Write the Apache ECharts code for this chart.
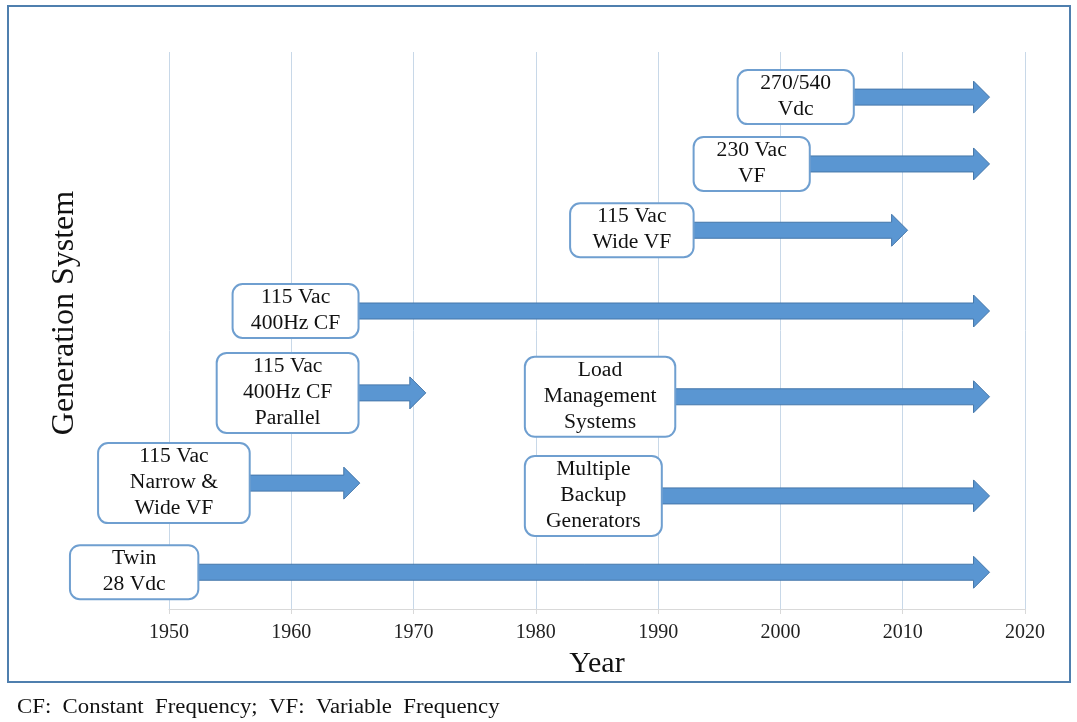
<!DOCTYPE html>
<html>
<head>
<meta charset="utf-8">
<title>Generation System timeline</title>
<script src="https://cdn.jsdelivr.net/npm/echarts@6/dist/echarts.min.js"></script>
<style>
    html, body { margin: 0; padding: 0; background: #fff; }
    #chart { width: 1077px; height: 722px; }
</style>
</head>
<body>
<div id="chart"></div>
<script>
// 数据：每个系统的文字框起止年份、箭头终点年份、行位置
const yearTicks = [1950, 1960, 1970, 1980, 1990, 2000, 2010, 2020];
const systemLabels = [
    "Twin\n28 Vdc",
    "115 Vac\nNarrow &\nWide VF",
    "Multiple\nBackup\nGenerators",
    "115 Vac\n400Hz CF\nParallel",
    "Load\nManagement\nSystems",
    "115 Vac\n400Hz CF",
    "115 Vac\nWide VF",
    "230 Vac\nVF",
    "270/540\nVdc"
];
const boxStartYear = [1941.9, 1944.2, 1979.1, 1953.9, 1979.1, 1955.2, 1982.8, 1992.9, 1996.5];
const boxEndYear = [1952.4, 1956.6, 1990.3, 1965.5, 1991.4, 1965.5, 1992.9, 2002.4, 2006.0];
const arrowEndYear = [2017.1, 1965.6, 2017.1, 1971.0, 2017.1, 2017.1, 2010.4, 2017.1, 2017.1];
const rowLevel = [0.66, 2.26, 2.03, 3.88, 3.81, 5.35, 6.8, 7.99, 9.19];

(function () {
    const my_echart = echarts.init(document.getElementById("chart"));
    const serif = "Liberation Serif, Times New Roman, serif";
    const seriesData = systemLabels.map(function (name, i) {
        return [boxStartYear[i], boxEndYear[i], arrowEndYear[i], rowLevel[i]];
    });

    function renderItem(params, api) {
        const i = params.dataIndex;
        const left = api.coord([api.value(0), api.value(3)]);
        const right = api.coord([api.value(1), api.value(3)]);
        const tip = api.coord([api.value(2), api.value(3)]);
        const lines = systemLabels[i].split("\n").length;
        const h = lines * 26 + 2; //框高度
        const cy = left[1];
        const shaft = 8, head = 16, headLen = 16;
        return {
            type: "group",
            children: [
                { //箭头
                    type: "polygon",
                    shape: {
                        points: [
                            [right[0] - 2, cy - shaft],
                            [tip[0] - headLen, cy - shaft],
                            [tip[0] - headLen, cy - head],
                            [tip[0], cy],
                            [tip[0] - headLen, cy + head],
                            [tip[0] - headLen, cy + shaft],
                            [right[0] - 2, cy + shaft]
                        ]
                    },
                    style: { fill: "#5a96d2", stroke: "#4577aa", lineWidth: 1 }
                },
                { //圆角文字框
                    type: "rect",
                    shape: { x: left[0], y: cy - h / 2, width: right[0] - left[0], height: h, r: 10 },
                    style: { fill: "#fff", stroke: "#6f9fd0", lineWidth: 2 }
                },
                {
                    type: "text",
                    x: (left[0] + right[0]) / 2,
                    y: cy,
                    scaleX: 1.08, //原图文字略宽
                    style: {
                        text: systemLabels[i],
                        x: 0,
                        y: 0,
                        align: "center",
                        verticalAlign: "middle",
                        font: "20px " + serif,
                        lineHeight: 26,
                        fill: "#111"
                    }
                }
            ]
        };
    }

    let option = {
        animation: false,
        grid: {
            left: 169,
            right: 52,
            top: 52,
            bottom: 113
        },
        xAxis: {
            type: "value",
            min: yearTicks[0],
            max: yearTicks[yearTicks.length - 1],
            interval: 10,
            name: "Year",
            nameLocation: "middle",
            nameGap: 40,
            nameTextStyle: { fontFamily: serif, fontSize: 30, color: "#111" },
            axisLine: { lineStyle: { color: "#d9d9d9" } },
            axisTick: { show: true, length: 5, lineStyle: { color: "#d9d9d9" } },
            axisLabel: {
                fontFamily: serif, fontSize: 20, color: "#222", margin: 14,
                formatter: function (v) { return String(v); }
            },
            splitLine: { show: true, lineStyle: { color: "#c8d8e8", width: 1 } }
        },
        yAxis: {
            type: "value",
            min: 0,
            max: 10,
            show: false
        },
        graphic: [
            { //外边框
                type: "rect",
                shape: { x: 8, y: 6, width: 1062, height: 676 },
                style: { fill: "none", stroke: "#4f7fae", lineWidth: 2 }
            },
            {
                type: "text",
                x: 65,
                y: 313,
                rotation: Math.PI / 2,
                style: {
                    text: "Generation System",
                    align: "center",
                    verticalAlign: "middle",
                    font: "32px " + serif,
                    fill: "#111"
                }
            },
            {
                type: "text",
                x: 17,
                y: 708,
                scaleX: 1.14,
                style: {
                    text: "CF:  Constant  Frequency;  VF:  Variable  Frequency",
                    align: "left",
                    verticalAlign: "middle",
                    font: "20px " + serif,
                    fill: "#111"
                }
            }
        ],
        series: [
            {
                type: "custom",
                renderItem: renderItem,
                clip: false,
                encode: { x: [0, 1, 2], y: 3 },
                data: seriesData
            }
        ]
    };
    my_echart.setOption(option);
    window.addEventListener("resize", function () {
        my_echart.resize();
    });
})();
</script>
</body>
</html>
